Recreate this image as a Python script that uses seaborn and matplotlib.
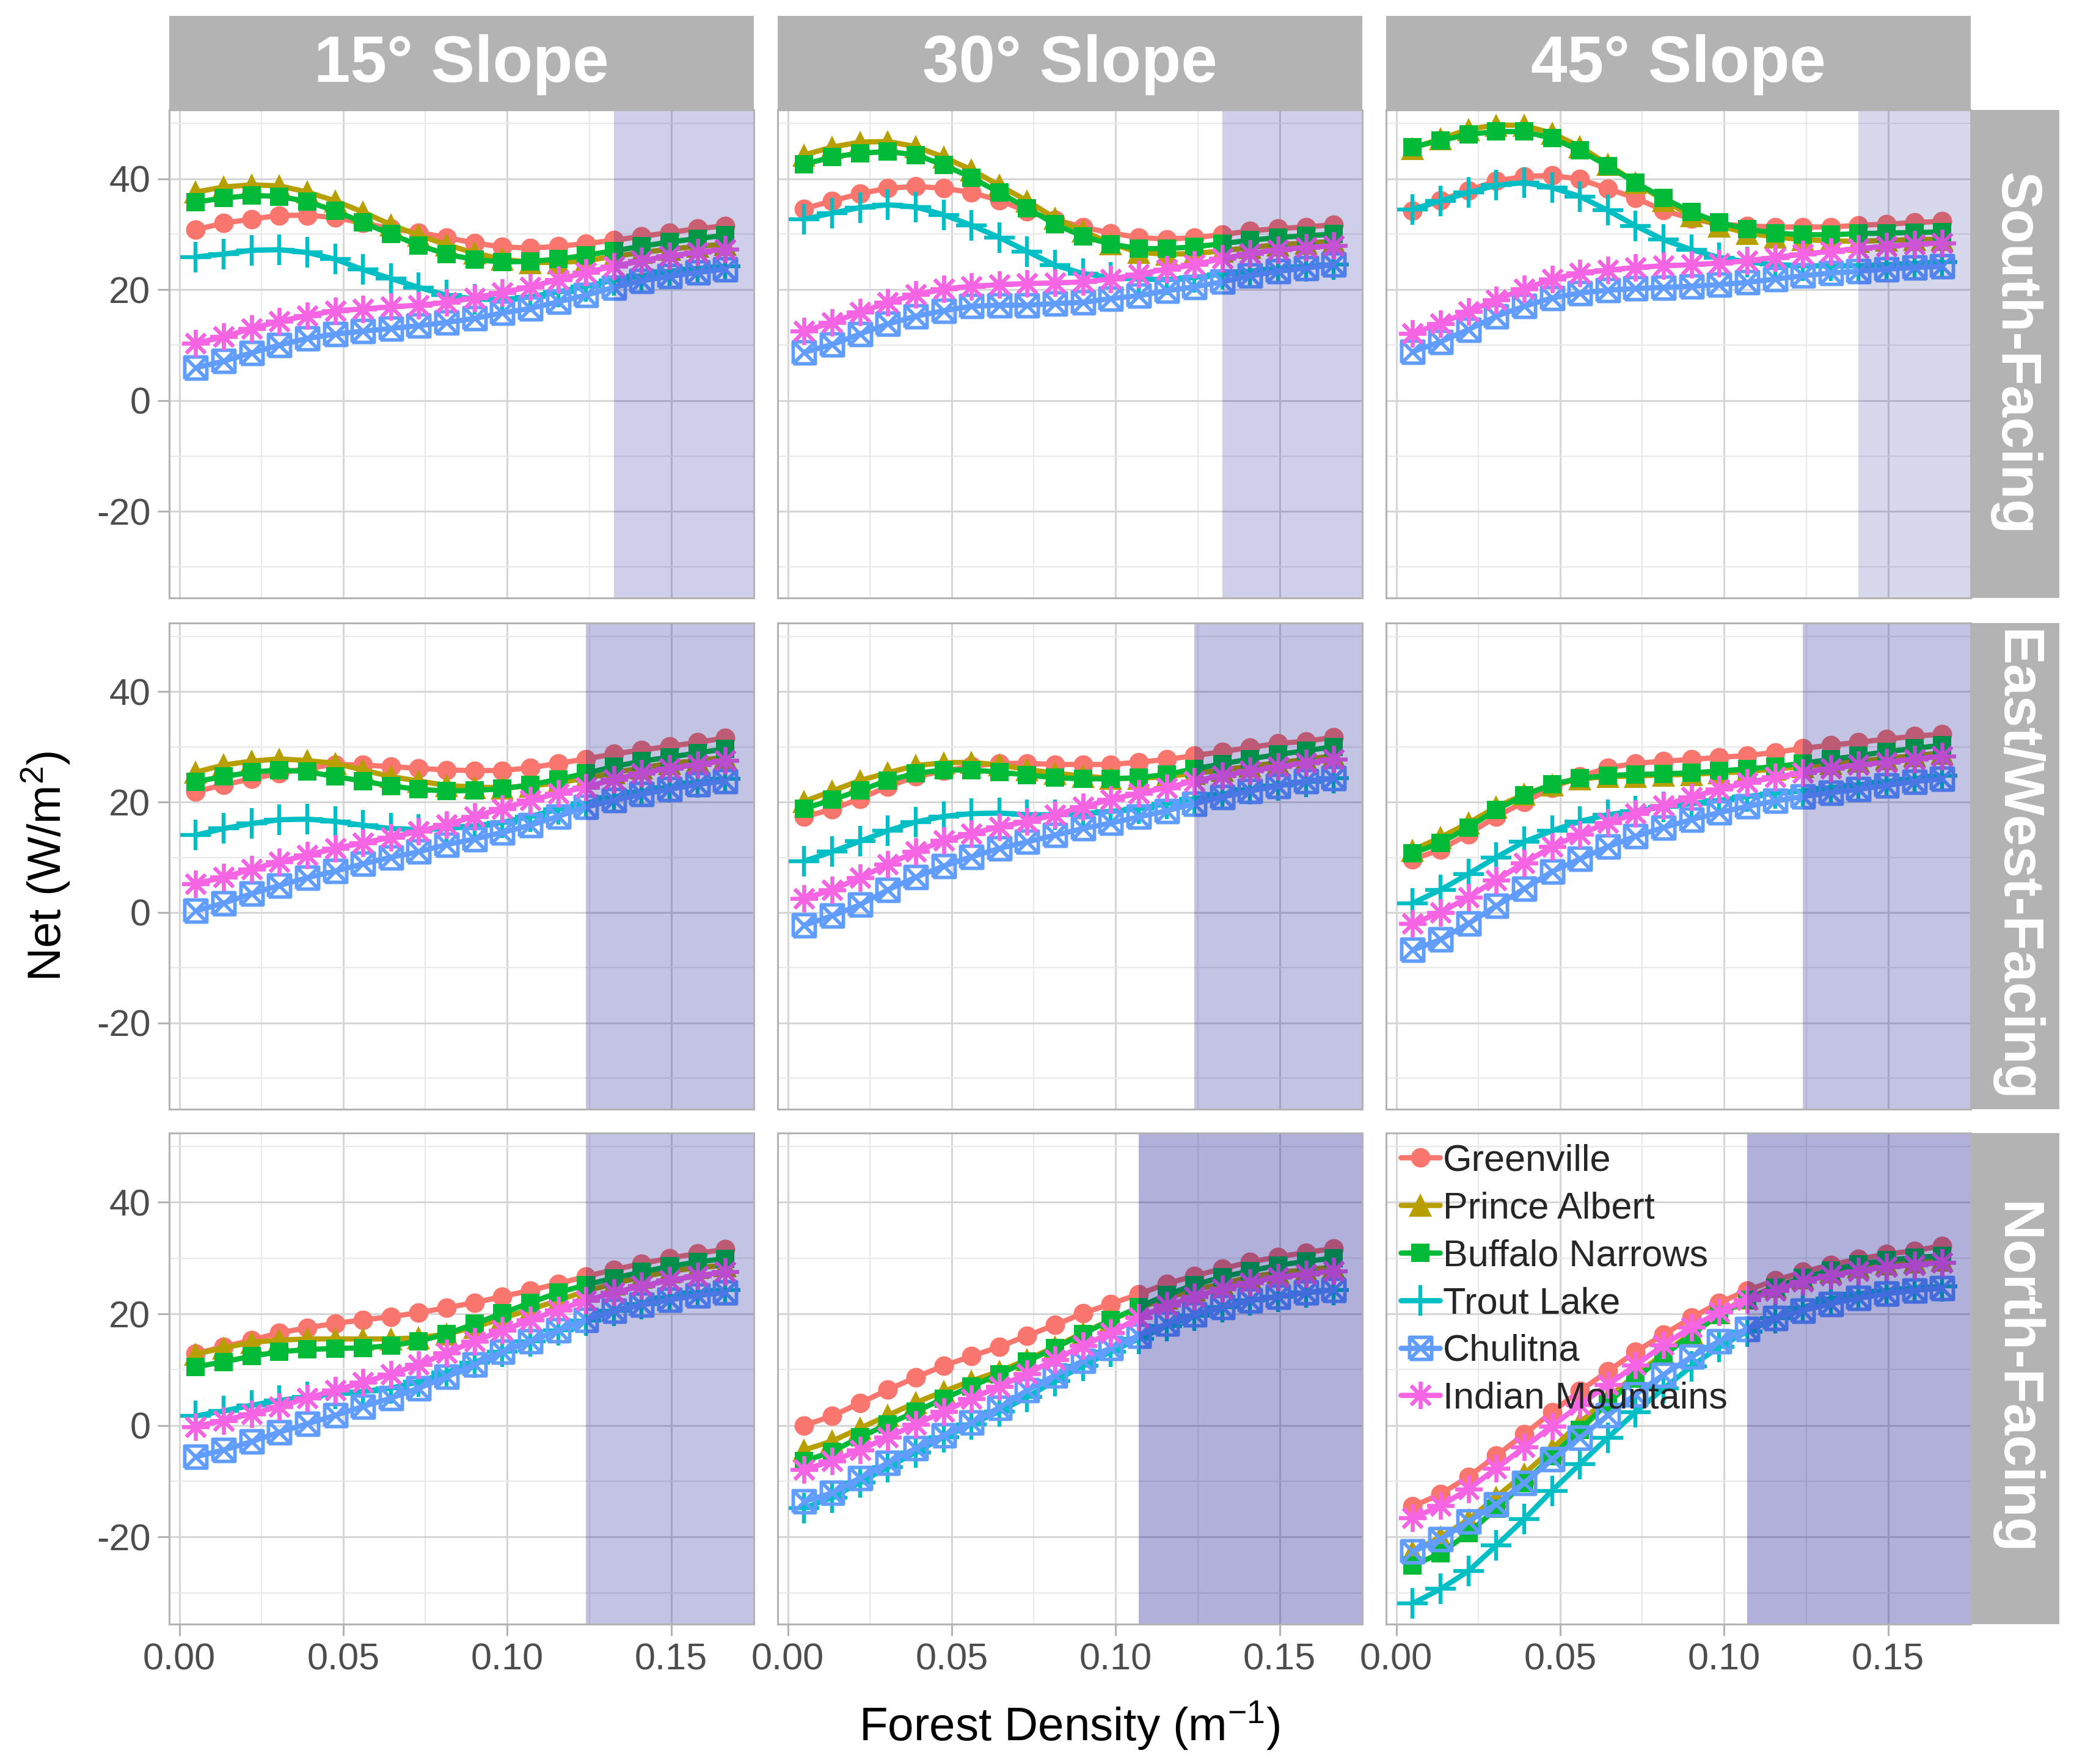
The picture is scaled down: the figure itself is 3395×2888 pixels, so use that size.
import matplotlib
matplotlib.use("Agg")
import matplotlib.pyplot as plt
from matplotlib.path import Path
from matplotlib.lines import Line2D
import seaborn as sns
import pandas as pd

# forest density (1/m) at which each net flux was computed
density = [0.005, 0.0135, 0.022, 0.0305, 0.039, 0.0475, 0.056, 0.0645, 0.073, 0.0815,
           0.090, 0.0985, 0.107, 0.1155, 0.124, 0.1325, 0.141, 0.1495, 0.158, 0.1665]

sites = ["Greenville", "Prince Albert", "Buffalo Narrows", "Trout Lake", "Chulitna", "Indian Mountains"]
slopes = ["15° Slope", "30° Slope", "45° Slope"]
aspects = ["South-Facing", "East/West-Facing", "North-Facing"]

# net flux (W/m2), one dict per panel, keyed by site
south_15 = {
    "Greenville": [30.8, 32.0, 32.7, 33.4, 33.4, 33.0, 32.0, 31.0, 30.3, 29.4, 28.4, 27.7, 27.5, 27.8, 28.3, 28.9, 29.6, 30.3, 31.0, 31.5],
    "Prince Albert": [37.6, 38.5, 38.9, 38.7, 37.6, 36.0, 34.0, 31.7, 29.8, 28.1, 26.6, 25.5, 24.9, 24.9, 25.2, 26.0, 26.7, 27.3, 27.8, 28.2],
    "Buffalo Narrows": [35.8, 36.5, 37.0, 36.8, 35.9, 34.2, 32.1, 30.0, 28.0, 26.4, 25.4, 25.0, 25.1, 25.5, 26.2, 27.0, 27.8, 28.6, 29.2, 29.8],
    "Trout Lake": [25.9, 26.4, 27.1, 27.2, 26.7, 25.5, 23.6, 22.0, 20.4, 19.0, 18.3, 18.2, 18.7, 19.6, 20.6, 21.7, 22.5, 23.3, 23.8, 24.2],
    "Chulitna": [5.9, 7.1, 8.6, 10.0, 11.2, 12.0, 12.5, 13.0, 13.5, 14.1, 14.8, 15.8, 16.6, 17.8, 19.0, 20.4, 21.6, 22.4, 23.1, 23.7],
    "Indian Mountains": [10.3, 11.5, 13.0, 14.3, 15.3, 16.2, 16.5, 16.9, 17.2, 17.7, 18.5, 19.5, 20.5, 21.8, 23.1, 24.2, 25.2, 26.1, 26.7, 27.3],
}
south_30 = {
    "Greenville": [34.6, 36.0, 37.3, 38.3, 38.6, 38.3, 37.5, 36.1, 34.1, 32.6, 31.3, 30.2, 29.4, 29.1, 29.4, 29.9, 30.6, 31.0, 31.3, 31.7],
    "Prince Albert": [44.3, 45.7, 46.6, 46.7, 45.8, 43.9, 41.6, 38.8, 36.0, 32.9, 30.6, 28.3, 26.7, 26.4, 26.5, 27.0, 27.6, 28.1, 28.4, 28.7],
    "Buffalo Narrows": [42.6, 43.9, 44.6, 44.9, 44.3, 42.5, 40.2, 37.5, 34.7, 31.8, 29.6, 28.2, 27.4, 27.4, 27.7, 28.3, 28.9, 29.4, 29.7, 30.0],
    "Trout Lake": [32.7, 33.8, 34.8, 35.3, 34.9, 33.5, 31.6, 29.4, 26.9, 24.4, 22.9, 22.2, 21.9, 21.8, 22.2, 22.8, 23.3, 23.8, 24.2, 24.5],
    "Chulitna": [8.7, 10.1, 12.0, 13.8, 15.2, 16.2, 17.0, 17.2, 17.2, 17.5, 17.7, 18.4, 18.9, 19.8, 20.5, 21.4, 22.5, 23.3, 23.9, 24.5],
    "Indian Mountains": [12.5, 14.1, 15.9, 17.7, 19.1, 20.1, 20.6, 20.9, 21.1, 21.2, 21.4, 21.9, 22.8, 23.7, 24.5, 25.6, 26.5, 27.2, 27.6, 27.9],
}
south_45 = {
    "Greenville": [34.2, 36.1, 37.9, 39.6, 40.4, 40.6, 39.9, 38.2, 36.5, 34.3, 32.8, 31.8, 31.5, 31.3, 31.3, 31.3, 31.6, 31.8, 32.1, 32.3],
    "Prince Albert": [45.5, 47.2, 48.9, 49.7, 49.6, 48.2, 45.8, 42.6, 39.3, 36.1, 33.3, 31.5, 30.2, 29.5, 29.0, 28.8, 28.7, 28.9, 29.0, 29.1],
    "Buffalo Narrows": [45.7, 46.9, 48.0, 48.5, 48.5, 47.3, 45.1, 42.3, 39.3, 36.5, 34.0, 32.1, 30.9, 30.2, 29.9, 29.9, 30.1, 30.2, 30.3, 30.4],
    "Trout Lake": [34.5, 36.0, 37.5, 38.8, 39.3, 38.4, 36.8, 34.3, 31.5, 29.0, 27.2, 25.8, 25.0, 24.5, 24.3, 24.3, 24.3, 24.5, 24.7, 25.0],
    "Chulitna": [8.8, 10.6, 12.8, 15.2, 17.0, 18.5, 19.4, 19.9, 20.2, 20.4, 20.6, 20.9, 21.3, 21.9, 22.5, 23.0, 23.3, 23.7, 24.0, 24.2],
    "Indian Mountains": [12.1, 13.9, 16.0, 18.2, 20.1, 21.9, 23.0, 23.5, 24.0, 24.3, 24.5, 24.8, 25.2, 25.8, 26.4, 26.9, 27.4, 27.8, 28.2, 28.4],
}
eastwest_15 = {
    "Greenville": [21.9, 23.1, 24.2, 25.2, 26.1, 26.8, 26.7, 26.4, 26.1, 25.8, 25.7, 25.7, 26.2, 27.0, 27.8, 28.7, 29.4, 30.1, 30.8, 31.6],
    "Prince Albert": [25.4, 26.7, 27.4, 27.8, 27.5, 27.0, 25.8, 24.6, 23.8, 23.0, 22.7, 22.6, 22.9, 23.5, 24.3, 25.3, 26.2, 27.0, 27.5, 28.1],
    "Buffalo Narrows": [23.7, 24.6, 25.4, 25.8, 25.5, 24.6, 23.8, 22.9, 22.3, 22.0, 22.1, 22.4, 23.1, 24.1, 25.2, 26.4, 27.4, 28.1, 28.9, 29.6],
    "Trout Lake": [14.0, 15.2, 16.1, 16.8, 16.9, 16.5, 15.8, 15.2, 15.0, 15.2, 15.7, 16.3, 17.4, 18.7, 19.8, 20.9, 21.9, 22.7, 23.5, 24.2],
    "Chulitna": [0.3, 1.7, 3.4, 4.9, 6.3, 7.5, 8.8, 10.0, 11.0, 12.3, 13.3, 14.5, 15.8, 17.4, 19.1, 20.3, 21.4, 22.3, 23.2, 23.8],
    "Indian Mountains": [5.2, 6.4, 7.8, 9.2, 10.4, 11.6, 12.6, 13.6, 14.7, 15.9, 17.4, 18.8, 20.3, 21.6, 22.7, 24.1, 25.2, 26.1, 26.8, 27.5],
}
eastwest_30 = {
    "Greenville": [17.3, 18.7, 20.6, 22.8, 24.6, 25.6, 26.5, 27.0, 27.0, 26.8, 26.8, 26.8, 27.2, 27.7, 28.4, 29.1, 29.9, 30.6, 31.0, 31.7],
    "Prince Albert": [20.1, 22.0, 23.9, 25.3, 26.6, 27.1, 27.2, 26.7, 25.9, 25.2, 24.7, 24.3, 24.3, 24.6, 25.2, 25.8, 26.5, 27.1, 27.7, 28.4],
    "Buffalo Narrows": [18.8, 20.4, 22.1, 23.9, 25.2, 25.8, 25.8, 25.4, 24.9, 24.4, 24.2, 24.2, 24.4, 25.0, 26.0, 26.9, 27.8, 28.6, 29.3, 30.0],
    "Trout Lake": [9.3, 11.0, 12.9, 14.8, 16.4, 17.4, 17.9, 18.0, 17.7, 17.7, 17.9, 18.3, 18.8, 19.7, 20.6, 21.4, 22.3, 23.0, 23.7, 24.3],
    "Chulitna": [-2.3, -0.6, 1.4, 4.1, 6.4, 8.4, 10.1, 11.6, 12.8, 14.0, 15.2, 16.2, 17.3, 18.4, 19.7, 20.9, 22.0, 22.9, 23.8, 24.3],
    "Indian Mountains": [2.5, 4.1, 6.3, 8.7, 11.0, 13.0, 14.3, 15.5, 16.5, 17.7, 19.1, 20.5, 21.6, 22.6, 23.8, 24.8, 25.6, 26.4, 27.1, 27.7],
}
eastwest_45 = {
    "Greenville": [9.6, 11.4, 14.2, 17.4, 20.0, 22.6, 24.6, 26.2, 27.0, 27.4, 27.7, 28.1, 28.4, 29.0, 29.7, 30.3, 30.8, 31.4, 31.9, 32.3],
    "Prince Albert": [11.3, 13.6, 16.2, 19.1, 21.4, 23.1, 24.2, 24.6, 24.7, 24.9, 25.0, 25.3, 25.5, 26.0, 26.4, 27.0, 27.4, 27.9, 28.4, 28.9],
    "Buffalo Narrows": [10.7, 12.6, 15.4, 18.6, 21.2, 23.2, 24.3, 24.8, 25.0, 25.1, 25.3, 25.6, 26.0, 26.4, 27.0, 27.7, 28.4, 29.1, 29.7, 30.3],
    "Trout Lake": [1.7, 4.1, 7.0, 10.0, 12.8, 14.8, 16.5, 17.7, 18.4, 19.1, 19.7, 20.3, 21.0, 21.6, 22.0, 22.6, 23.1, 23.7, 24.2, 24.8],
    "Chulitna": [-6.8, -4.9, -2.0, 1.2, 4.3, 7.4, 9.7, 11.9, 13.8, 15.4, 16.8, 18.1, 19.2, 20.2, 21.0, 21.7, 22.3, 23.0, 23.7, 24.2],
    "Indian Mountains": [-2.0, 0.0, 2.8, 5.9, 9.0, 11.9, 14.2, 16.2, 17.9, 19.4, 20.9, 22.3, 23.5, 24.5, 25.3, 26.1, 26.7, 27.2, 27.8, 28.3],
}
north_15 = {
    "Greenville": [12.9, 14.1, 15.3, 16.6, 17.5, 18.3, 18.9, 19.5, 20.2, 21.1, 22.0, 23.1, 24.2, 25.4, 26.7, 27.9, 29.0, 30.0, 30.8, 31.6],
    "Prince Albert": [12.8, 13.9, 14.9, 15.3, 15.5, 15.5, 15.5, 15.5, 15.7, 16.4, 17.6, 19.2, 20.8, 22.4, 24.1, 25.4, 26.6, 27.6, 28.3, 28.7],
    "Buffalo Narrows": [10.5, 11.4, 12.4, 13.2, 13.6, 13.8, 13.9, 14.3, 15.1, 16.4, 18.2, 20.1, 22.0, 23.8, 25.2, 26.4, 27.5, 28.5, 29.3, 29.9],
    "Trout Lake": [1.7, 2.6, 3.6, 4.5, 5.1, 5.7, 6.1, 6.7, 7.8, 9.5, 11.3, 13.2, 15.1, 17.0, 18.8, 20.5, 21.8, 23.0, 23.8, 24.3],
    "Chulitna": [-5.6, -4.4, -2.9, -1.2, 0.3, 1.8, 3.4, 4.9, 6.7, 8.7, 10.9, 13.2, 15.1, 17.0, 18.9, 20.5, 21.6, 22.5, 23.3, 23.8],
    "Indian Mountains": [-0.2, 0.9, 2.1, 3.4, 4.9, 6.3, 7.7, 9.2, 10.9, 13.0, 15.1, 17.0, 18.9, 20.7, 22.4, 23.8, 25.0, 26.0, 26.8, 27.5],
}
north_30 = {
    "Greenville": [0.0, 1.7, 4.0, 6.4, 8.6, 10.7, 12.4, 14.1, 16.1, 18.0, 20.1, 21.8, 23.5, 25.4, 26.8, 28.1, 29.3, 30.2, 31.0, 31.7],
    "Prince Albert": [-4.4, -2.8, -0.5, 1.8, 4.1, 6.1, 8.0, 9.7, 11.8, 14.1, 16.6, 18.9, 21.0, 22.8, 24.3, 25.4, 26.6, 27.4, 27.9, 28.4],
    "Buffalo Narrows": [-6.4, -4.7, -2.1, 0.2, 2.5, 4.8, 7.0, 9.2, 11.5, 13.9, 16.4, 18.9, 21.2, 23.4, 25.2, 26.6, 27.7, 28.7, 29.4, 30.0],
    "Trout Lake": [-14.8, -12.9, -10.2, -7.5, -4.8, -2.1, 0.2, 2.5, 5.1, 8.0, 10.7, 13.2, 15.5, 17.8, 19.7, 21.2, 22.4, 23.1, 23.8, 24.3],
    "Chulitna": [-13.6, -12.1, -9.4, -6.7, -4.1, -1.8, 0.5, 3.2, 6.3, 9.0, 11.6, 13.9, 16.1, 18.2, 19.9, 21.2, 22.4, 23.1, 23.8, 24.3],
    "Indian Mountains": [-7.9, -6.4, -4.4, -2.1, 0.2, 2.5, 4.8, 7.0, 9.3, 11.8, 14.3, 16.6, 19.3, 21.5, 23.1, 24.5, 25.6, 26.6, 27.1, 27.7],
}
north_45 = {
    "Greenville": [-14.5, -12.3, -9.2, -5.4, -1.6, 2.4, 6.2, 9.7, 13.2, 16.3, 19.3, 22.0, 24.2, 26.0, 27.5, 28.8, 29.8, 30.7, 31.3, 32.2],
    "Prince Albert": [-22.6, -20.0, -16.9, -12.8, -8.7, -4.2, 0.5, 4.9, 9.1, 12.8, 16.6, 20.2, 22.8, 24.9, 26.5, 27.6, 28.4, 29.0, 29.3, 29.6],
    "Buffalo Narrows": [-25.1, -22.9, -19.3, -14.9, -10.3, -5.5, -0.8, 4.0, 8.4, 12.5, 16.3, 19.8, 22.5, 24.7, 26.5, 27.8, 28.9, 29.6, 30.1, 30.4],
    "Trout Lake": [-31.9, -29.3, -26.1, -21.5, -16.8, -11.7, -6.9, -2.2, 2.4, 6.6, 10.6, 14.1, 16.8, 19.2, 21.1, 22.7, 23.6, 24.2, 24.6, 24.9],
    "Chulitna": [-22.6, -20.4, -17.2, -14.1, -10.3, -6.1, -2.2, 1.8, 5.6, 9.1, 12.3, 15.1, 17.3, 19.2, 20.6, 21.8, 22.8, 23.6, 24.2, 24.6],
    "Indian Mountains": [-16.6, -14.4, -11.4, -7.7, -3.9, -0.1, 3.7, 7.3, 10.8, 14.4, 17.6, 20.3, 22.5, 24.2, 25.8, 26.9, 27.7, 28.4, 28.8, 29.2],
}
panels = [[south_15, south_30, south_45],
          [eastwest_15, eastwest_30, eastwest_45],
          [north_15, north_30, north_45]]

# start of the shaded density range in each panel
shade_start = [[0.1325, 0.1325, 0.141],
               [0.124, 0.124, 0.124],
               [0.124, 0.107, 0.107]]
shade_alpha = [[0.19, 0.19, 0.153],
               [0.235, 0.235, 0.235],
               [0.235, 0.31, 0.31]]

# ---- style ----
sns.set_theme(style="white")
plt.rcParams["font.family"] = ["Liberation Sans", "DejaVu Sans"]
plt.rcParams["mathtext.fontset"] = "custom"
plt.rcParams["mathtext.rm"] = "Liberation Sans"
plt.rcParams["mathtext.default"] = "regular"
plt.rcParams["axes.unicode_minus"] = False

colors = ["#F8766D", "#B79F00", "#00BA38", "#00BFC4", "#619CFF", "#F564E3"]
boxtimes = Path([(-1, -1), (1, -1), (1, 1), (-1, 1), (-1, -1), (-1, -1), (1, 1), (-1, 1), (1, -1)],
                [Path.MOVETO, Path.LINETO, Path.LINETO, Path.LINETO, Path.LINETO,
                 Path.MOVETO, Path.LINETO, Path.MOVETO, Path.LINETO])
mstyle = [
    dict(marker="o", markersize=11.5, markeredgewidth=0),
    dict(marker="^", markersize=13.5, markeredgewidth=0),
    dict(marker="s", markersize=10.5, markeredgewidth=0),
    dict(marker="+", markersize=18, markeredgewidth=2.3),
    dict(marker=boxtimes, markersize=13, markeredgewidth=2.1, markerfacecolor="none"),
    dict(marker=(8, 2, 0), markersize=16, markeredgewidth=2.1),
]
line_w = 3.1

W, H = 3395, 2888
fig = plt.figure(figsize=(W / 200, H / 200), dpi=200)


def box(x0, y0, x1, y1):
    return [x0 / W, 1 - y1 / H, (x1 - x0) / W, (y1 - y0) / H]


cols = [(277, 1234), (1273, 2230), (2269, 3226)]
rows = [(180, 979), (1020, 1816), (1855, 2659)]
strip_col = "#b3b3b3"

for r, (y0, y1) in enumerate(rows):
    for c, (x0, x1) in enumerate(cols):
        ax = fig.add_axes(box(x0, y0, x1, y1))
        data = panels[r][c]
        for i, site in enumerate(sites):
            df = pd.DataFrame({"density": density, "net": data[site]})
            kw = dict(mstyle[i])
            kw.setdefault("markerfacecolor", colors[i])
            sns.lineplot(data=df, x="density", y="net", ax=ax, color=colors[i],
                         linewidth=line_w, markeredgecolor=colors[i], **kw)
        ax.axvspan(shade_start[r][c], 0.3, color="#00008B", alpha=shade_alpha[r][c],
                   lw=0, zorder=5)
        ax.set_xlim(-0.0031, 0.1752)
        ax.set_ylim(-35.6, 52.4)
        ax.set_xticks([0, 0.05, 0.10, 0.15])
        ax.set_xticks([0.025, 0.075, 0.125], minor=True)
        ax.set_yticks([-20, 0, 20, 40])
        ax.set_yticks([-30, -10, 10, 30, 50], minor=True)
        ax.set_xticklabels(["0.00", "0.05", "0.10", "0.15"])
        ax.grid(which="major", color="#d6d6d6", lw=1.1)
        ax.grid(which="minor", color="#e9e9e9", lw=0.8)
        ax.set_axisbelow(True)
        ax.set_xlabel("")
        ax.set_ylabel("")
        for s in ax.spines.values():
            s.set_color(strip_col)
            s.set_linewidth(1.1)
            s.set_zorder(6)
        ax.tick_params(which="minor", length=0)
        ax.tick_params(which="major", length=7, width=1.1, color=strip_col,
                       labelsize=22, labelcolor="#4d4d4d", pad=4,
                       left=(c == 0), labelleft=(c == 0),
                       bottom=(r == 2), labelbottom=(r == 2))
        if r == 2 and c == 2:
            handles = [Line2D([], [], color=colors[i], linewidth=line_w,
                              markeredgecolor=colors[i],
                              **{"markerfacecolor": colors[i], **mstyle[i]})
                       for i in range(len(sites))]
            ax.legend(handles, sites, loc="upper left", bbox_to_anchor=(-0.004, 1.012),
                      frameon=False, fontsize=22, handlelength=1.05,
                      handletextpad=0.08, labelspacing=0.34, borderaxespad=0.25,
                      borderpad=0.2)

# strips
for c, (x0, x1) in enumerate(cols):
    sax = fig.add_axes(box(x0, 26, x1, 180))
    sax.set_facecolor(strip_col)
    sax.set_xticks([]); sax.set_yticks([])
    for s in sax.spines.values():
        s.set_visible(False)
    sax.text(0.5, 0.48, slopes[c], ha="center", va="center", color="white",
             fontsize=38.5, fontweight="bold", transform=sax.transAxes)

for r, (y0, y1) in enumerate(rows):
    sax = fig.add_axes(box(3226, y0, 3371, y1))
    sax.set_facecolor(strip_col)
    sax.set_xticks([]); sax.set_yticks([])
    for s in sax.spines.values():
        s.set_visible(False)
    sax.text(0.5, 0.5, aspects[r], ha="center", va="center", color="white",
             fontsize=33.5, fontweight="bold", rotation=270, transform=sax.transAxes)

fig.text(1751 / W, 1 - 2825 / H, "Forest Density (m$^{-1}$)", ha="center", va="center",
         fontsize=27.5, color="black")
fig.text(75 / W, 1 - 1418 / H, "Net (W/m$^{2}$)", ha="center", va="center",
         fontsize=27.5, rotation=90, color="black")

fig.savefig("out.png", dpi=200, facecolor="white")
